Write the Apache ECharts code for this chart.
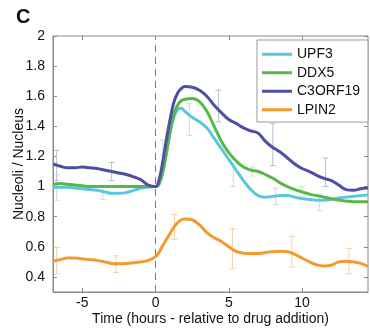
<!DOCTYPE html>
<html>
<head>
<meta charset="utf-8">
<script src="https://cdn.jsdelivr.net/npm/echarts@6/dist/echarts.min.js"></script>
<style>
  html, body { margin: 0; padding: 0; background: #fff; }
  #chart { width: 370px; height: 329px; }
</style>
</head>
<body>
<div id="chart"></div>
<script>
// time points (hours relative to drug addition)
const hours = [-7, -6.5, -6, -5.5, -5, -4.5, -4, -3.5, -3, -2.5, -2, -1.5, -1, -0.5, 0,
  0.25, 0.5, 0.75, 1, 1.25, 1.5, 1.75,
  2, 2.5, 3, 3.5, 4, 4.5, 5, 5.5, 6, 6.5, 7, 7.5, 8, 8.5, 9, 9.5, 10, 10.5, 11, 11.5, 12, 12.5, 13, 13.5, 14, 14.5]

const upf3 = [0.995, 0.995, 0.995, 0.99, 0.985, 0.98, 0.975, 0.965, 0.955, 0.955, 0.96, 0.975, 0.99, 0.998, 1.0,
  1.02, 1.1, 1.23, 1.36, 1.46, 1.51, 1.52,
  1.5, 1.46, 1.43, 1.39, 1.32, 1.25, 1.18, 1.11, 1.04, 0.98, 0.94, 0.93, 0.935, 0.94, 0.94, 0.93, 0.92, 0.915, 0.91, 0.91, 0.915, 0.925, 0.93, 0.935, 0.94, 0.945]

const ddx5 = [1.015, 1.02, 1.015, 1.01, 1.005, 1.0, 1.0, 1.0, 1.0, 1.0, 1.0, 1.0, 1.0, 1.0, 1.0,
  1.02, 1.1, 1.23, 1.37, 1.48, 1.54, 1.57,
  1.58, 1.585, 1.565, 1.5, 1.4, 1.3, 1.225, 1.17, 1.13, 1.11, 1.1, 1.08, 1.055, 1.025, 1.0, 0.98, 0.965, 0.95, 0.94, 0.93, 0.92, 0.91, 0.905, 0.9, 0.9, 0.9]

const c3orf19 = [1.15, 1.135, 1.125, 1.125, 1.13, 1.125, 1.12, 1.11, 1.1, 1.09, 1.08, 1.065, 1.045, 1.01, 1.0,
  1.05, 1.17, 1.32, 1.45, 1.56, 1.62, 1.65,
  1.665, 1.66, 1.64, 1.6, 1.54, 1.49, 1.445, 1.42, 1.39, 1.37, 1.355, 1.3, 1.26, 1.23, 1.19, 1.15, 1.12, 1.1, 1.075, 1.055, 1.04, 1.01, 0.98, 0.975, 0.985, 0.99]

const lpin2 = [0.505, 0.515, 0.525, 0.525, 0.52, 0.515, 0.51, 0.5, 0.49, 0.488, 0.49, 0.495, 0.5, 0.51, 0.535,
  0.565, 0.61, 0.65, 0.69, 0.73, 0.76, 0.78,
  0.785, 0.78, 0.745, 0.695, 0.66, 0.635, 0.6, 0.57, 0.558, 0.555, 0.555, 0.562, 0.567, 0.57, 0.568, 0.55, 0.525, 0.5, 0.48, 0.473, 0.478, 0.5, 0.505, 0.5, 0.49, 0.47]

// error bars: [hour, low, high]
const upf3Err = [[-6.75, 0.91, 1.08], [-3.6, 0.915, 1.01], [2.3, 1.34, 1.55], [5.3, 1.0, 1.15], [8.2, 0.88, 0.99], [11.2, 0.84, 0.95]]
const ddx5Err = [[0.5, 1.21, 1.31], [6.6, 1.07, 1.13], [10, 0.93, 1.0]]
const c3orf19Err = [[-6.75, 1.04, 1.24], [-3, 1.04, 1.16], [4.3, 1.43, 1.64], [8, 1.14, 1.42], [11.6, 1.0, 1.19]]
const lpin2Err = [[-6.75, 0.42, 0.595], [-2.7, 0.43, 0.54], [1.3, 0.65, 0.815], [5.25, 0.455, 0.72], [9.3, 0.465, 0.67], [13.2, 0.42, 0.59]]

const xTicks = [-5, 0, 5, 10]
const yTicks = [0.4, 0.6, 0.8, 1, 1.2, 1.4, 1.6, 1.8, 2]

const names = ['UPF3', 'DDX5', 'C3ORF19', 'LPIN2']
const colors = ['#5cc6dc', '#56b847', '#4f4ea6', '#f3992d']
const errColors = ['#c4dde2', '#cfe3c8', '#bdbdd6', '#f6cfa4']

const font = '"Liberation Sans", Arial, Helvetica, sans-serif'
const axisGrey = '#8a8a8a'

function pairs (ys) {
  return hours.map((h, i) => [h, ys[i]])
}

function errSeries (data, color) {
  return {
    type: 'custom',
    silent: true,
    z: 1,
    data: data,
    renderItem: function (params, api) {
      const lo = api.coord([api.value(0), api.value(1)])
      const hi = api.coord([api.value(0), api.value(2)])
      const cap = 3
      const style = { stroke: color, lineWidth: 1 }
      return {
        type: 'group',
        children: [
          { type: 'line', shape: { x1: lo[0], y1: lo[1], x2: hi[0], y2: hi[1] }, style: style },
          { type: 'line', shape: { x1: lo[0] - cap, y1: lo[1], x2: lo[0] + cap, y2: lo[1] }, style: style },
          { type: 'line', shape: { x1: hi[0] - cap, y1: hi[1], x2: hi[0] + cap, y2: hi[1] }, style: style }
        ]
      }
    }
  }
}

function lineSeries (name, ys, color) {
  return {
    name: name,
    type: 'line',
    data: pairs(ys),
    smooth: 0.4,
    symbol: 'none',
    z: 3,
    itemStyle: { color: color },
    lineStyle: { color: color, width: 3 }
  }
}

const chart = echarts.init(document.getElementById('chart'))

const series = [
  errSeries(upf3Err, errColors[0]),
  errSeries(ddx5Err, errColors[1]),
  errSeries(c3orf19Err, errColors[2]),
  errSeries(lpin2Err, errColors[3]),
  lineSeries(names[0], upf3, colors[0]),
  lineSeries(names[1], ddx5, colors[1]),
  lineSeries(names[2], c3orf19, colors[2]),
  lineSeries(names[3], lpin2, colors[3])
]
// dashed line at drug addition
series[4].markLine = {
  silent: true,
  symbol: 'none',
  label: { show: false },
  z: 0,
  lineStyle: { color: '#777', type: [7, 5], width: 1 },
  data: [{ xAxis: 0 }]
}

const tickStyle = { show: true, inside: true, length: 4, lineStyle: { color: axisGrey } }

chart.setOption({
  animation: false,
  title: {
    text: 'C',
    left: 11,
    top: 2,
    textStyle: { fontFamily: font, fontSize: 20, fontWeight: 'bold', color: '#111' }
  },
  legend: {
    data: names,
    orient: 'vertical',
    right: 2,
    top: 40,
    padding: [6, 8, 4, 5],
    icon: 'rect',
    itemWidth: 30,
    itemHeight: 3,
    itemGap: 2,
    borderColor: '#999',
    borderWidth: 1,
    backgroundColor: '#fff',
    textStyle: { fontFamily: font, fontSize: 14, color: '#111', lineHeight: 16.5 }
  },
  grid: {
    left: 53,
    right: 2,
    top: 36,
    bottom: 37,
    outerBoundsMode: 'none',
    containLabel: false,
    show: true,
    borderColor: axisGrey,
    borderWidth: 1
  },
  xAxis: [{
    type: 'value',
    min: -7,
    max: 14.5,
    name: 'Time (hours - relative to drug addition)',
    nameLocation: 'middle',
    nameGap: 20,
    nameMoveOverlap: false,
    nameTextStyle: { fontFamily: font, fontSize: 14, color: '#111' },
    axisLine: { onZero: false, lineStyle: { color: axisGrey } },
    axisTick: Object.assign({ customValues: xTicks }, tickStyle),
    axisLabel: { customValues: xTicks, margin: 4, fontFamily: font, fontSize: 14, color: '#111' },
    splitLine: { show: false }
  }, {
    type: 'value',
    position: 'top',
    min: -7,
    max: 14.5,
    axisLine: { show: false, onZero: false },
    axisTick: Object.assign({ customValues: xTicks }, tickStyle),
    axisLabel: { show: false },
    splitLine: { show: false }
  }],
  yAxis: [{
    type: 'value',
    min: 0.3,
    max: 2,
    name: 'Nucleoli / Nucleus',
    nameLocation: 'middle',
    nameGap: 27,
    nameMoveOverlap: false,
    nameTextStyle: { fontFamily: font, fontSize: 14, color: '#111' },
    axisLine: { show: true, onZero: false, lineStyle: { color: axisGrey } },
    axisTick: Object.assign({ customValues: yTicks }, tickStyle),
    axisLabel: { customValues: yTicks, margin: 8, fontFamily: font, fontSize: 14, color: '#111' },
    splitLine: { show: false }
  }, {
    type: 'value',
    position: 'right',
    min: 0.3,
    max: 2,
    axisLine: { show: false, onZero: false },
    axisTick: Object.assign({ customValues: yTicks }, tickStyle),
    axisLabel: { show: false },
    splitLine: { show: false }
  }],
  series: series
})
</script>
</body>
</html>
